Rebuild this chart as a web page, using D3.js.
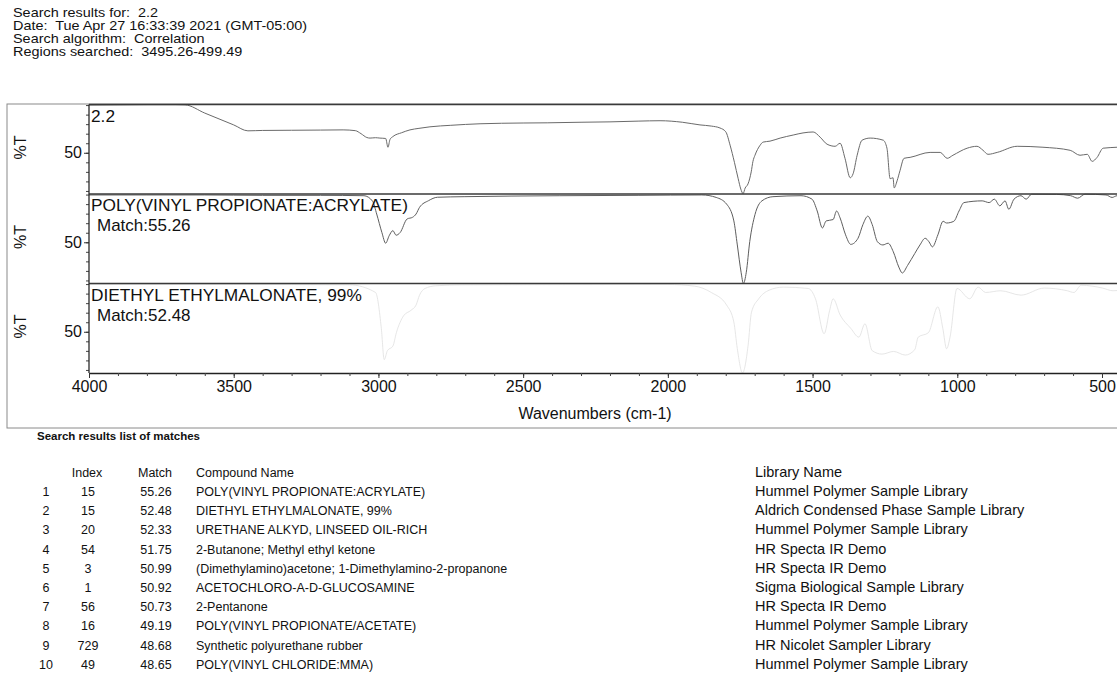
<!DOCTYPE html>
<html>
<head>
<meta charset="utf-8">
<script src="https://cdn.jsdelivr.net/npm/d3@7"></script>
<style>
  html, body { margin: 0; padding: 0; background: #fff; }
  svg { display: block; font-family: "Liberation Sans", Arial, sans-serif; }
  text { white-space: pre; }
</style>
</head>
<body>
<svg id="chart" width="1117" height="681"></svg>
<script>
// ---- report header ----
const headerLines = [
  "Search results for:  2.2",
  "Date:  Tue Apr 27 16:33:39 2021 (GMT-05:00)",
  "Search algorithm:  Correlation",
  "Regions searched:  3495.26-499.49"
];

// ---- spectra: [wavenumber (cm-1), %T] ----
const sampleSpectrum = [
  [4000,75.0],[3900,75.1],[3800,75.2],[3700,75.2],[3668,75.1],[3600,70.8],[3500,64.6],
  [3451,61.5],[3400,61.7],[3300,61.8],[3200,61.9],[3122,62.0],[3080,61.6],[3060,60.0],
  [3040,58.0],[3029,57.7],[3010,57.9],[2995,57.7],[2975,57.5],[2967,52.9],[2960,57.0],
  [2950,58.5],[2920,60.5],[2891,62.0],[2860,62.8],[2822,63.6],[2750,64.4],[2649,65.2],
  [2500,65.6],[2417,65.7],[2300,66.0],[2200,66.2],[2100,66.6],[2027,66.8],[1950,66.0],
  [1889,64.6],[1850,64.0],[1820,63.0],[1800,61.0],[1785,54.0],[1770,45.0],[1757,36.4],
  [1748,31.0],[1740,28.6],[1733,31.5],[1723,33.7],[1712,40.0],[1706,45.5],[1699,48.7],
  [1681,54.0],[1671,55.6],[1647,56.1],[1612,57.7],[1567,59.3],[1533,60.4],[1498,60.9],
  [1474,58.2],[1450,54.5],[1422,53.4],[1405,55.0],[1388,47.1],[1370,36.9],[1360,39.0],
  [1346,48.7],[1329,56.6],[1301,57.7],[1256,56.6],[1243,52.4],[1232,36.4],[1222,36.9],
  [1218,31.6],[1208,35.3],[1198,40.6],[1184,47.1],[1163,47.6],[1094,50.2],[1059,50.2],
  [1035,47.1],[1015,48.7],[966,52.4],[932,53.4],[911,51.3],[894,49.2],[862,50.2],
  [793,53.4],[704,52.9],[610,51.3],[576,48.7],[551,49.2],[534,45.5],[517,47.6],
  [496,52.4],[448,52.9],[400,53.4]
];

const matchSpectrum1 = [
  [4000,74.8],[3800,74.8],[3600,74.8],[3400,74.6],[3200,74.6],[3050,74.4],[3020,71.5],
  [3006,64.8],[2988,55.1],[2975,49.5],[2963,53.4],[2950,56.1],[2939,53.7],[2925,55.1],
  [2901,62.2],[2882,63.1],[2870,64.8],[2858,68.3],[2827,71.8],[2796,73.6],[2704,73.9],
  [2373,74.4],[2100,74.6],[1883,74.8],[1833,73.5],[1797,70.0],[1772,61.2],[1760,48.6],
  [1747,34.3],[1739,28.4],[1729,34.3],[1717,50.4],[1699,64.5],[1675,71.7],[1637,73.9],
  [1540,74.4],[1502,72.6],[1484,66.4],[1466,57.5],[1453,61.2],[1429,61.9],[1417,66.4],
  [1405,62.8],[1386,53.9],[1368,48.9],[1343,52.1],[1326,59.3],[1309,63.7],[1294,59.3],
  [1276,50.3],[1257,48.6],[1239,49.5],[1221,45.0],[1202,37.0],[1190,33.9],[1172,37.8],
  [1147,44.1],[1129,48.6],[1111,52.1],[1098,50.3],[1086,47.6],[1067,53.9],[1049,61.0],
  [1037,60.1],[1012,61.0],[994,66.4],[977,70.8],[914,71.7],[890,70.8],[872,72.6],
  [853,69.1],[835,71.7],[822,67.3],[804,72.6],[780,74.4],[762,72.6],[743,75.2],
  [657,75.1],[608,74.4],[584,73.1],[559,75.2],[486,74.8],[465,73.5],[448,74.4],[400,74.4]
];

const matchSpectrum2 = [
  [4000,74.8],[3500,74.8],[3100,74.6],[3010,70.6],[2990,51.8],[2980,35.4],[2969,40.1],
  [2950,42.5],[2938,49.5],[2913,58.4],[2888,61.2],[2870,64.0],[2858,69.2],[2839,72.7],
  [2802,74.1],[2704,74.6],[2000,74.8],[1907,73.9],[1850,70.6],[1797,64.0],[1772,55.1],
  [1760,41.1],[1742,28.4],[1723,42.5],[1711,60.3],[1686,67.3],[1650,71.8],[1601,73.4],
  [1515,72.7],[1490,67.3],[1460,49.0],[1441,61.2],[1429,67.3],[1405,58.9],[1368,51.8],
  [1340,47.2],[1319,54.2],[1294,40.1],[1260,38.3],[1220,39.7],[1180,37.8],[1147,40.6],
  [1135,47.2],[1100,49.5],[1067,63.1],[1050,51.8],[1037,41.1],[1025,47.2],[1001,72.7],
  [957,67.3],[928,73.4],[902,70.6],[850,71.5],[780,69.2],[700,72.9],[620,71.5],
  [597,70.6],[572,74.4],[498,72.9],[462,71.5],[400,72.9]
];

const panelNames = ["2.2", "POLY(VINYL PROPIONATE:ACRYLATE)", "DIETHYL ETHYLMALONATE, 99%"];
const panelMatches = [null, "Match:55.26", "Match:52.48"];
const panelColors = ["#6a6a6a", "#5e5e5e", "#e0e0e0"];

const xTicks = [4000, 3500, 3000, 2500, 2000, 1500, 1000, 500];
const yTicks = [50];

// ---- match list ----
const rowNumbers = [1, 2, 3, 4, 5, 6, 7, 8, 9, 10];
const indexValues = [15, 15, 20, 54, 3, 1, 56, 16, 729, 49];
const matchValues = ["55.26", "52.48", "52.33", "51.75", "50.99", "50.92", "50.73", "49.19", "48.68", "48.65"];
const compoundNames = [
  "POLY(VINYL PROPIONATE:ACRYLATE)",
  "DIETHYL ETHYLMALONATE, 99%",
  "URETHANE ALKYD, LINSEED OIL-RICH",
  "2-Butanone; Methyl ethyl ketone",
  "(Dimethylamino)acetone; 1-Dimethylamino-2-propanone",
  "ACETOCHLORO-A-D-GLUCOSAMINE",
  "2-Pentanone",
  "POLY(VINYL PROPIONATE/ACETATE)",
  "Synthetic polyurethane rubber",
  "POLY(VINYL CHLORIDE:MMA)"
];
const libraryNames = [
  "Hummel Polymer Sample Library",
  "Aldrich Condensed Phase Sample Library",
  "Hummel Polymer Sample Library",
  "HR Specta IR Demo",
  "HR Specta IR Demo",
  "Sigma Biological Sample Library",
  "HR Specta IR Demo",
  "Hummel Polymer Sample Library",
  "HR Nicolet Sampler Library",
  "Hummel Polymer Sample Library"
];

const svg = d3.select("#chart");

// header block (printed slightly wide)
svg.append("g").attr("transform", "translate(13,0) scale(1.11,1)")
  .selectAll("text").data(headerLines).join("text")
  .attr("x", 0).attr("y", (d, i) => 17 + i * 13)
  .attr("font-size", 13).attr("fill", "#111")
  .text(d => d);

// layout of the stacked panels
const plotLeft = 89;
const panelTops = [104.5, 194, 283.5];
const panelH = 89.5;
const axisY = panelTops[2] + panelH;

const x = d3.scaleLinear().domain([4000, 400]).range([plotLeft, plotLeft + 3600 * (1013 / 3500)]);
const yScales = panelTops.map(t => d3.scaleLinear().domain([28.4, 75.3]).range([t + panelH, t]));

// outer frame
svg.append("rect").attr("x", 7).attr("y", 104).attr("width", 1130).attr("height", 324)
  .attr("fill", "none").attr("stroke", "#8a8a8a").attr("stroke-width", 1);

const spectra = [sampleSpectrum, matchSpectrum1, matchSpectrum2];

spectra.forEach((data, i) => {
  const y = yScales[i];
  const g = svg.append("g");
  const line = d3.line().x(d => x(d[0])).y(d => y(d[1])).curve(d3.curveMonotoneX);
  g.append("path").datum(data).attr("d", line)
    .attr("fill", "none").attr("stroke", panelColors[i]).attr("stroke-width", i === 2 ? 0.8 : 1);

  // panel top separator
  g.append("line").attr("x1", plotLeft).attr("x2", 1117)
    .attr("y1", panelTops[i]).attr("y2", panelTops[i])
    .attr("stroke", "#3a3a3a").attr("stroke-width", 1.6);

  // y axis: minor ticks then the labelled 50 tick
  const minor = g.append("g").attr("transform", `translate(${plotLeft},0)`)
    .call(d3.axisLeft(y).tickValues(d3.range(30, 76, 5)).tickSize(3).tickFormat(""));
  minor.select(".domain").remove();
  minor.selectAll("line").attr("stroke", "#444");

  const major = g.append("g").attr("transform", `translate(${plotLeft},0)`)
    .call(d3.axisLeft(y).tickValues(yTicks).tickSize(5).tickPadding(2));
  major.select(".domain").remove();
  major.selectAll("line").attr("stroke", "#333");
  major.selectAll("text").attr("font-size", 16).attr("fill", "#111")
    .attr("font-family", "Liberation Sans, Arial, sans-serif");

  // %T title
  g.append("text").attr("transform", `translate(26,${panelTops[i] + 43}) rotate(-90)`)
    .attr("text-anchor", "middle").attr("font-size", 16).attr("fill", "#111").text("%T");

  // panel labels
  g.append("text").attr("x", plotLeft + 2).attr("y", panelTops[i] + 17)
    .attr("font-size", 17.3).attr("fill", "#111").text(panelNames[i]);
  if (panelMatches[i]) {
    g.append("text").attr("x", plotLeft + 8).attr("y", panelTops[i] + 37)
      .attr("font-size", 17).attr("fill", "#111").text(panelMatches[i]);
  }
});

// left axis line
svg.append("line").attr("x1", plotLeft).attr("x2", plotLeft)
  .attr("y1", panelTops[0]).attr("y2", axisY)
  .attr("stroke", "#2a2a2a").attr("stroke-width", 1.3);

// x axis
const xMinor = svg.append("g").attr("transform", `translate(0,${axisY})`)
  .call(d3.axisBottom(x).tickValues(d3.range(4000, 399, -100)).tickSize(3).tickFormat("").tickSizeOuter(0));
xMinor.select(".domain").attr("stroke", "#222").attr("stroke-width", 1.6);
xMinor.selectAll("line").attr("stroke", "#444");

const xMajor = svg.append("g").attr("transform", `translate(0,${axisY})`)
  .call(d3.axisBottom(x).tickValues(xTicks).tickSize(5).tickPadding(3).tickSizeOuter(0)
    .tickFormat(d3.format("d")));
xMajor.select(".domain").remove();
xMajor.selectAll("line").attr("stroke", "#333");
xMajor.selectAll("text").attr("font-size", 16).attr("fill", "#111")
  .attr("font-family", "Liberation Sans, Arial, sans-serif");

svg.append("text").attr("x", 595).attr("y", 419).attr("text-anchor", "middle")
  .attr("font-size", 16).attr("fill", "#111").text("Wavenumbers (cm-1)");

// match list table
svg.append("text").attr("x", 37).attr("y", 440).attr("font-size", 11.5)
  .attr("font-weight", "bold").attr("fill", "#111").text("Search results list of matches");

const rowY = i => 496 + i * 19.2;
const tbl = svg.append("g").attr("font-size", 12.5).attr("fill", "#111");
tbl.append("text").attr("x", 87).attr("y", 477).attr("text-anchor", "middle").text("Index");
tbl.append("text").attr("x", 155).attr("y", 477).attr("text-anchor", "middle").text("Match");
tbl.append("text").attr("x", 196).attr("y", 477).text("Compound Name");

tbl.selectAll(".rn").data(rowNumbers).join("text").attr("class", "rn")
  .attr("x", 46).attr("y", (d, i) => rowY(i)).attr("text-anchor", "middle").text(d => d);
tbl.selectAll(".ix").data(indexValues).join("text").attr("class", "ix")
  .attr("x", 88).attr("y", (d, i) => rowY(i)).attr("text-anchor", "middle").text(d => d);
tbl.selectAll(".mv").data(matchValues).join("text").attr("class", "mv")
  .attr("x", 156).attr("y", (d, i) => rowY(i)).attr("text-anchor", "middle").text(d => d);
tbl.selectAll(".cn").data(compoundNames).join("text").attr("class", "cn")
  .attr("x", 196).attr("y", (d, i) => rowY(i)).text(d => d);

// library column is printed in a larger face
const lib = svg.append("g").attr("font-size", 14.5).attr("fill", "#111");
lib.append("text").attr("x", 755).attr("y", 477).text("Library Name");
lib.selectAll(".ln").data(libraryNames).join("text").attr("class", "ln")
  .attr("x", 755).attr("y", (d, i) => rowY(i)).text(d => d);
</script>
</body>
</html>
